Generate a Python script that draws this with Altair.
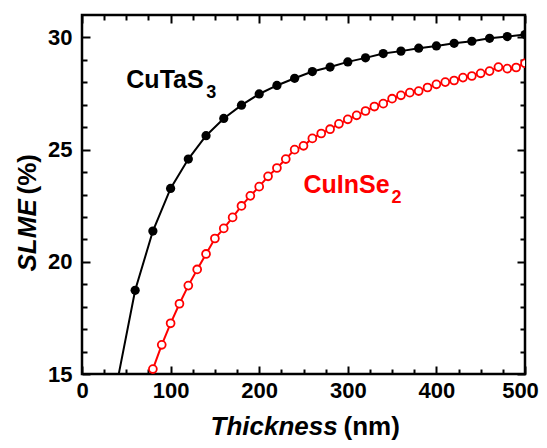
import altair as alt
import pandas as pd

# ---- data ----
cutas3_thickness = [40, 60, 80, 100, 120, 140, 160, 180, 200, 220, 240, 260,
                    280, 300, 320, 340, 360, 380, 400, 420, 440, 460, 480, 500]
cutas3_slme = [14.7, 18.73, 21.37, 23.27, 24.58, 25.62, 26.39, 26.98, 27.48, 27.86, 28.18, 28.48,
               28.68, 28.91, 29.09, 29.28, 29.39, 29.52, 29.62, 29.74, 29.83, 29.96, 30.04, 30.13]

cuinse2_thickness = [80, 90, 100, 110, 120, 130, 140, 150, 160, 170, 180, 190, 200, 210, 220,
                     230, 240, 250, 260, 270, 280, 290, 300, 310, 320, 330, 340, 350, 360, 370,
                     380, 390, 400, 410, 420, 430, 440, 450, 460, 470, 480, 490, 500]
cuinse2_slme = [15.22, 16.30, 17.26, 18.13, 18.94, 19.66, 20.35, 21.04, 21.49, 21.98, 22.49, 22.94,
                23.35, 23.81, 24.18, 24.58, 25.00, 25.17, 25.50, 25.72, 25.91, 26.15, 26.35, 26.53,
                26.72, 26.92, 27.05, 27.27, 27.42, 27.54, 27.61, 27.77, 27.91, 28.01, 28.08, 28.21,
                28.28, 28.40, 28.50, 28.68, 28.61, 28.66, 28.85]

x_major_ticks = [0, 100, 200, 300, 400, 500]
x_minor_ticks = [25, 50, 75, 125, 150, 175, 225, 250, 275, 325, 350, 375, 425, 450, 475]
y_major_ticks = [15, 20, 25, 30]
y_minor_ticks = [16, 17, 18, 19, 21, 22, 23, 24, 26, 27, 28, 29]

label_main = ["CuTaS", "CuInSe"]
label_sub = ["3", "2"]
label_x = [50, 250]
label_y = [27.73, 23.06]
label_color = ["black", "#FF0000"]

df_b = pd.DataFrame({"thickness": cutas3_thickness, "slme": cutas3_slme})
df_r = pd.DataFrame({"thickness": cuinse2_thickness, "slme": cuinse2_slme})

xscale = alt.Scale(domain=[0, 500], nice=False, zero=False)
yscale = alt.Scale(domain=[15, 31], nice=False, zero=False)

FONT = "Liberation Sans"
MAJ = 8
MIN = 5


def tick_axis(orient, values, size, **kw):
    return alt.Axis(orient=orient, values=values, tickSize=size, offset=-size,
                    labels=False, domain=False, grid=False, tickWidth=2,
                    tickColor="black", **kw)


common_title = dict(titleFont=FONT, titleFontSize=26, titleFontWeight="bold",
                    titleColor="black", titleAlign="left", titleBaseline="alphabetic")

x_lab_axis = alt.Axis(orient="bottom", values=x_major_ticks, tickSize=MAJ, offset=-MAJ,
                      domain=False, grid=False, tickWidth=2, tickColor="black",
                      labelFont=FONT, labelFontSize=22, labelFontWeight="bold",
                      labelColor="black", labelPadding=6, labelFlush=False,
                      labelOverlap=False, format="d",
                      labelOffset={"condition": {"test": "datum.value == 500", "value": -5},
                                   "value": 0},
                      title="Thickness", titleFontStyle="italic",
                      titleX=128, titleY=68, titleAngle=0, **common_title)
y_lab_axis = alt.Axis(orient="left", values=y_major_ticks, tickSize=MAJ, offset=-MAJ,
                      domain=False, grid=False, tickWidth=2, tickColor="black",
                      labelFont=FONT, labelFontSize=22, labelFontWeight="bold",
                      labelColor="black", labelPadding=10, labelFlush=False,
                      labelOverlap=False, format="d",
                      title="SLME", titleFontStyle="italic",
                      titleX=-55, titleY=256, titleAngle=270, **common_title)

line_b = alt.Chart(df_b).mark_line(color="black", strokeWidth=2, clip=True).encode(
    x=alt.X("thickness:Q", scale=xscale, axis=x_lab_axis),
    y=alt.Y("slme:Q", scale=yscale, axis=y_lab_axis),
)
pts_b = alt.Chart(df_b).mark_circle(color="black", size=85, opacity=1, clip=True).encode(
    x=alt.X("thickness:Q", scale=xscale,
            axis=tick_axis("bottom", x_minor_ticks, MIN, title="(nm)", titleFontStyle="normal",
                           titleX=261, titleY=65, titleAngle=0, **common_title)),
    y=alt.Y("slme:Q", scale=yscale,
            axis=tick_axis("left", y_minor_ticks, MIN, title="(%)", titleFontStyle="normal",
                           titleX=-52, titleY=179, titleAngle=270, **common_title)),
)
line_r = alt.Chart(df_r).mark_line(color="#FF0000", strokeWidth=2, clip=True).encode(
    x=alt.X("thickness:Q", scale=xscale, axis=tick_axis("top", x_major_ticks, MAJ, title=None)),
    y=alt.Y("slme:Q", scale=yscale, axis=tick_axis("right", y_major_ticks, MAJ, title=None)),
)
pts_r = alt.Chart(df_r).mark_circle(fill="white", stroke="#FF0000", strokeWidth=1.8,
                                    size=62, opacity=1, fillOpacity=1, clip=True).encode(
    x=alt.X("thickness:Q", scale=xscale, axis=tick_axis("top", x_minor_ticks, MIN, title=None)),
    y=alt.Y("slme:Q", scale=yscale, axis=tick_axis("right", y_minor_ticks, MIN, title=None)),
)

sub_dx = [80, 88]
text_layers = []
for i in range(len(label_main)):
    d = pd.DataFrame({"main": [label_main[i]], "sub": [label_sub[i]],
                      "thickness": [label_x[i]], "slme": [label_y[i]]})
    enc = dict(x=alt.X("thickness:Q", scale=xscale, axis=None),
               y=alt.Y("slme:Q", scale=yscale, axis=None))
    text_layers.append(
        alt.Chart(d).mark_text(font=FONT, fontSize=25, fontWeight="bold", align="left",
                               baseline="alphabetic", color=label_color[i]).encode(
            text="main:N", **enc)
    )
    text_layers.append(
        alt.Chart(d).mark_text(font=FONT, fontSize=18, fontWeight="bold", align="left",
                               baseline="alphabetic", color=label_color[i],
                               dx=sub_dx[i], dy=10).encode(
            text="sub:N", **enc)
    )

chart = alt.layer(line_b, pts_b, line_r, pts_r, *text_layers).resolve_scale(
    x="shared", y="shared"
).resolve_axis(
    x="independent", y="independent"
).properties(
    width=443, height=359,
    autosize=alt.AutoSizeParams(type="none"),
    padding={"left": 74, "top": 7, "right": 14, "bottom": 66},
    background="white",
).configure_view(
    stroke="black", strokeWidth=2.5
)

chart.save("out.html", embed_options={"renderer": "svg", "actions": False})
